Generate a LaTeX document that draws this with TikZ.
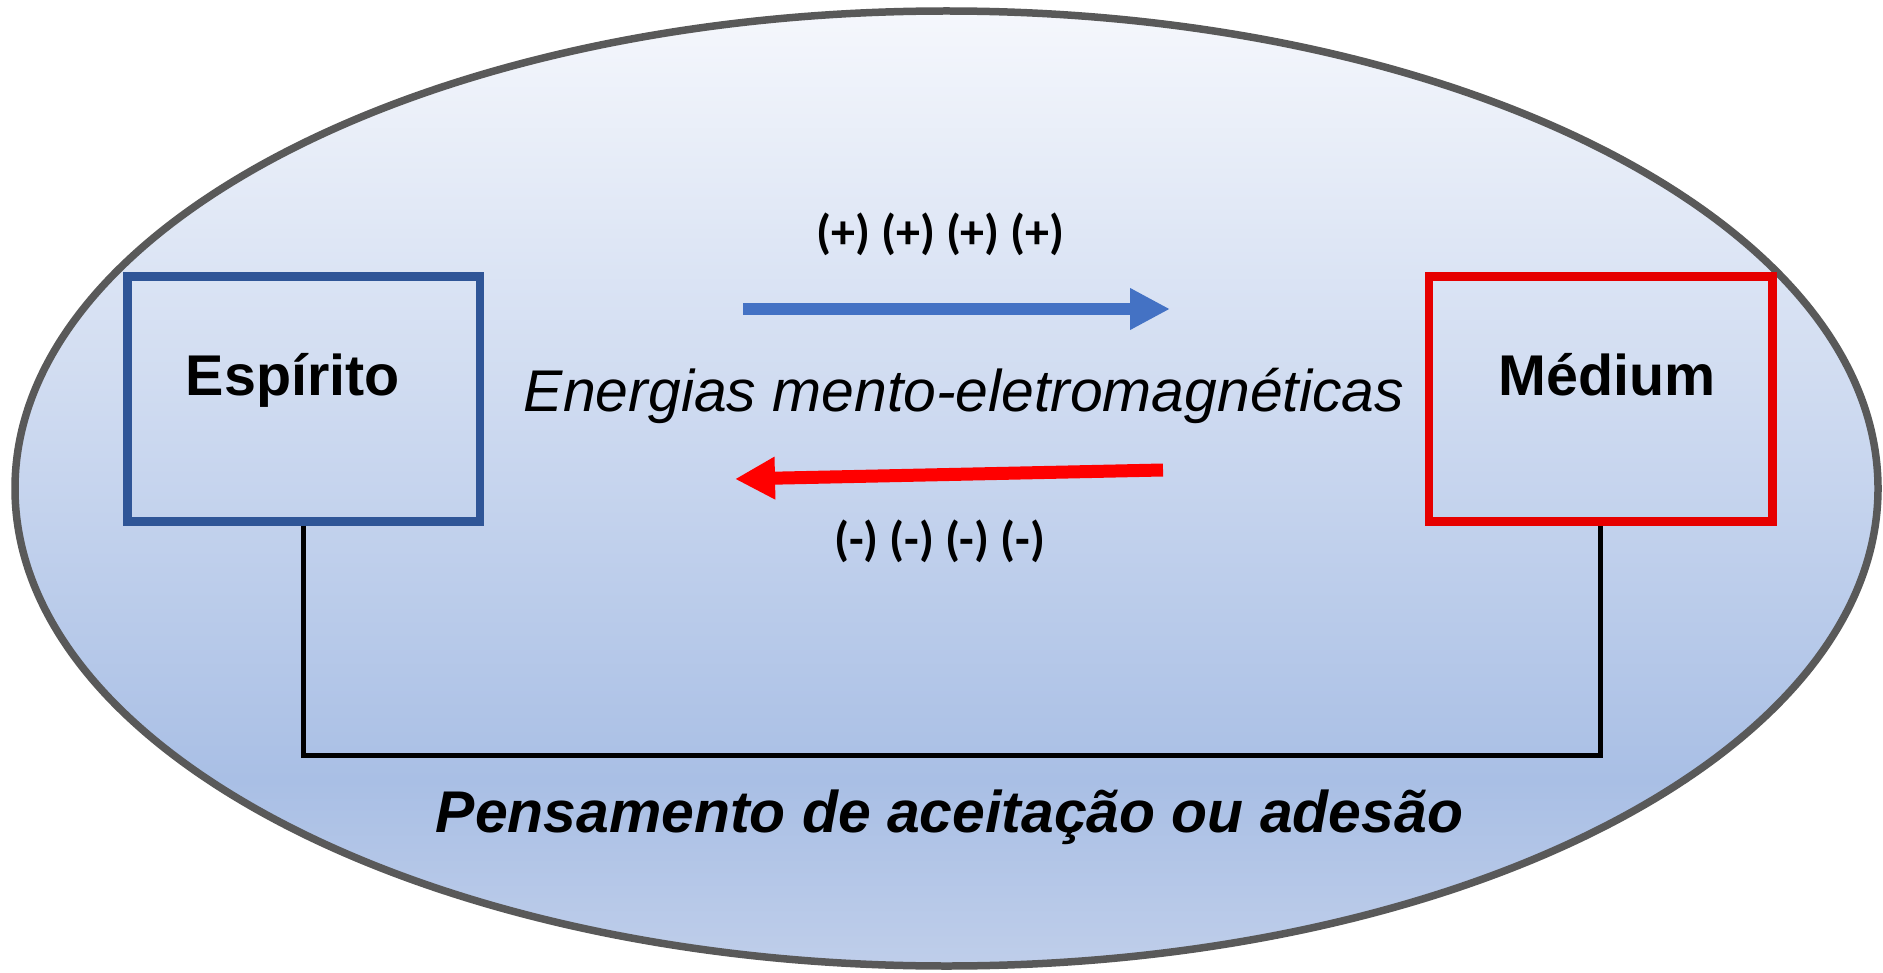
\documentclass[tikz,border=0pt]{standalone}
\usepackage{fontspec}
\setmainfont{Liberation Sans}
\newfontfamily\calibfont{Carlito}
\usetikzlibrary{arrows.meta, positioning}
\definecolor{spiritblue}{HTML}{2F5597}
\definecolor{mediumred}{HTML}{E60000}
\definecolor{flowblue}{HTML}{4472C4}
\definecolor{flowred}{HTML}{FF0000}
\definecolor{rimgray}{HTML}{595959}
\definecolor{fieldtop}{HTML}{F5F7FC}
\definecolor{fielddark}{HTML}{A9BFE5}
\definecolor{fieldbot}{HTML}{BFCEEA}
\pgfdeclareverticalshading{field}{100bp}{color(0bp)=(fieldbot); color(25bp)=(fieldbot); color(34.75bp)=(fielddark); color(75bp)=(fieldtop); color(100bp)=(fieldtop)}
\tikzstyle{field_rim} = [draw=rimgray, line width=1.5mm, shade, shading=field]
\tikzstyle{entity} = [rectangle, draw, line width=1.66mm, minimum height=49mm, inner sep=0pt, text height=8mm, text depth=9.6mm, font=\fontsize{32.7}{39}\selectfont\bfseries]
\tikzstyle{charges} = [inner sep=0pt, font=\calibfont\fontsize{27.3}{32}\selectfont\bfseries]
\tikzstyle{caption} = [inner sep=0pt, anchor=base]
\tikzstyle{flow_plus} = [line width=2.6mm, flowblue, -{Triangle[length=8mm, width=7.8mm]}]
\tikzstyle{flow_minus} = [line width=2.6mm, flowred, -{Triangle[length=8mm, width=8mm]}]
\tikzstyle{bond} = [line width=0.94mm, black]

\begin{document}
\begin{tikzpicture}[x=0.02cm, y=-0.02cm]

    \useasboundingbox (0,0) rectangle (1883,973);

    \path [field_rim] (946.5,488.5) ellipse [x radius=931.5, y radius=477.5];

    \node (spirit) [entity, draw=spiritblue, minimum width=70.5mm] at (303.75,399) {Espírito\hspace*{4.4mm}};
    \node (medium) [entity, draw=mediumred, minimum width=68.7mm] at (1600.75,399) {\hspace*{2.4mm}Médium};

    \node (plus) [charges] at (940.5,234) {(+) (+) (+) (+)};
    \node (minus) [charges] at (939.5,541) {(-) (-) (-) (-)};
    \node (energy) [caption, font=\fontsize{33.5}{40}\selectfont\itshape] at (964,411) {Energias mento-eletromagnéticas};
    \node (thought) [caption, font=\fontsize{33.5}{40}\selectfont\bfseries\itshape] at (949.5,832) {Pensamento de aceitação ou adesão};

    \coordinate (plus_from) at (743,309);
    \coordinate (plus_to) at (1170,309);
    \coordinate (minus_from) at (1163,470);
    \coordinate (minus_to) at (735,479);
    \coordinate (bend) at (953,755.5);

    \draw [flow_plus] (plus_from) -- (plus_to);
    \draw [flow_minus] (minus_from) -- (minus_to);
    \draw [bond] (spirit.south) |- (bend) -| (medium.south);

\end{tikzpicture}
\end{document}
